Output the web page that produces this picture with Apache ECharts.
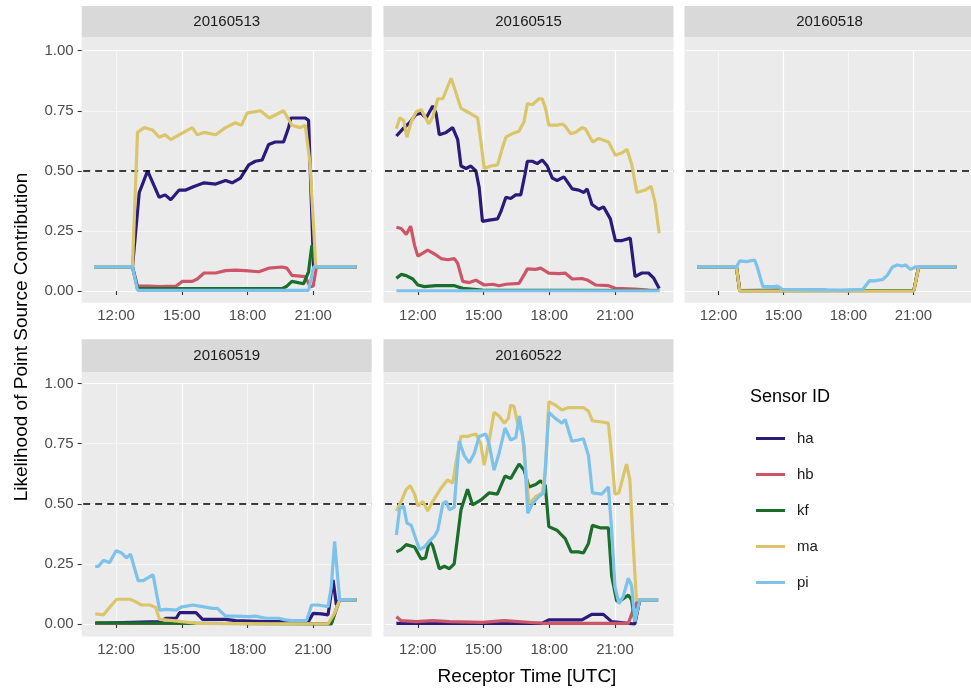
<!DOCTYPE html>
<html>
<head>
<meta charset="utf-8">
<script src="https://cdn.jsdelivr.net/npm/echarts@6/dist/echarts.min.js"></script>
<style>
html, body { margin: 0; padding: 0; background: #fff; }
#chart { width: 971px; height: 691px; }
</style>
</head>
<body>
<div id="chart"></div>
<script>
// facet labels and sensors
var dates = ['20160513', '20160515', '20160518', '20160519', '20160522'];
var sensors = ['ha', 'hb', 'kf', 'ma', 'pi'];
var sensorColors = ['#2b1a7a', '#cc5568', '#1a6e2c', '#dbc56a', '#7cc2ea'];
var xTicks = [12, 15, 18, 21];
var yTicks = [0, 0.25, 0.5, 0.75, 1];

// [hour UTC, likelihood]
var ha_0513 = [[11.0,0.1],[12.75,0.1],[13.06,0.41],[13.44,0.50],[13.97,0.39],[14.24,0.40],[14.5,0.38],[14.88,0.42],[15.18,0.42],[15.56,0.435],[16.02,0.45],[16.55,0.445],[17.0,0.46],[17.3,0.45],[17.68,0.47],[18.06,0.525],[18.36,0.54],[18.67,0.545],[18.97,0.61],[19.27,0.62],[19.65,0.62],[19.88,0.68],[19.98,0.72],[20.64,0.72],[20.79,0.71],[21.02,0.1],[22.98,0.1]];
var hb_0513 = [[11,0.1],[12.75,0.1],[12.98,0.02],[13.5,0.02],[13.97,0.018],[14.73,0.02],[15.03,0.04],[15.48,0.04],[15.71,0.05],[16.02,0.075],[16.55,0.075],[17.0,0.085],[17.45,0.087],[17.9,0.085],[18.52,0.08],[18.97,0.095],[19.58,0.1],[19.8,0.095],[20.03,0.065],[20.64,0.06],[20.86,0.018],[21.0,0.02],[21.15,0.1],[22.98,0.1]];
var kf_0513 = [[11,0.1],[12.75,0.1],[12.98,0.01],[19.58,0.01],[19.8,0.02],[20.03,0.04],[20.56,0.03],[20.79,0.08],[20.94,0.19],[21.09,0.1],[22.98,0.1]];
var ma_0513 = [[11.0,0.1],[12.75,0.1],[12.98,0.66],[13.29,0.68],[13.67,0.67],[13.97,0.64],[14.24,0.65],[14.5,0.63],[14.88,0.65],[15.48,0.68],[15.71,0.65],[16.02,0.66],[16.55,0.65],[17.0,0.68],[17.45,0.70],[17.73,0.69],[17.98,0.74],[18.59,0.75],[19.0,0.72],[19.65,0.75],[20.03,0.69],[20.41,0.68],[20.64,0.69],[20.86,0.53],[21.12,0.1],[22.98,0.1]];
var pi_0513 = [[11,0.1],[12.75,0.1],[12.98,0.003],[20.79,0.003],[21.02,0.1],[22.98,0.1]];

var ha_0515 = [[11.02,0.645],[11.32,0.675],[11.62,0.70],[11.92,0.735],[12.15,0.74],[12.38,0.72],[12.68,0.77],[12.83,0.74],[12.98,0.65],[13.29,0.66],[13.59,0.68],[13.82,0.63],[13.97,0.52],[14.2,0.51],[14.42,0.52],[14.65,0.50],[14.8,0.43],[14.95,0.29],[15.26,0.295],[15.64,0.30],[15.79,0.33],[16.02,0.39],[16.24,0.385],[16.47,0.40],[16.7,0.40],[16.89,0.485],[17.0,0.54],[17.23,0.54],[17.45,0.53],[17.68,0.545],[17.91,0.52],[18.14,0.47],[18.36,0.46],[18.67,0.475],[19.05,0.425],[19.35,0.42],[19.58,0.41],[19.73,0.425],[19.95,0.36],[20.26,0.34],[20.48,0.35],[20.79,0.30],[21.02,0.21],[21.33,0.21],[21.7,0.22],[21.92,0.06],[22.23,0.075],[22.53,0.075],[22.76,0.055],[23.02,0.01]];
var hb_0515 = [[11.02,0.265],[11.24,0.26],[11.47,0.235],[11.67,0.27],[11.85,0.19],[12.0,0.145],[12.45,0.17],[12.83,0.15],[13.06,0.135],[13.36,0.13],[13.67,0.135],[13.82,0.115],[14.05,0.04],[14.35,0.035],[14.65,0.045],[15.03,0.025],[15.41,0.028],[15.71,0.022],[16.02,0.028],[16.62,0.032],[16.85,0.067],[17.0,0.092],[17.38,0.09],[17.61,0.095],[17.98,0.074],[18.44,0.072],[18.74,0.074],[19.05,0.05],[19.5,0.052],[19.73,0.046],[20.11,0.025],[20.71,0.022],[21.02,0.011],[21.92,0.008],[22.53,0.004],[23.02,0.003]];
var kf_0515 = [[11.02,0.053],[11.24,0.069],[11.47,0.064],[11.77,0.05],[12.0,0.025],[12.3,0.018],[12.83,0.022],[13.67,0.022],[14.05,0.011],[14.95,0.004],[23.02,0.002]];
var ma_0515 = [[11.02,0.675],[11.17,0.72],[11.35,0.71],[11.5,0.64],[11.7,0.705],[11.92,0.745],[12.15,0.755],[12.5,0.695],[12.68,0.725],[12.91,0.80],[13.14,0.80],[13.36,0.85],[13.52,0.885],[13.74,0.825],[13.97,0.76],[14.27,0.745],[14.73,0.72],[14.88,0.62],[15.03,0.51],[15.33,0.52],[15.64,0.525],[15.86,0.595],[16.02,0.64],[16.32,0.655],[16.62,0.665],[16.85,0.705],[17.0,0.78],[17.23,0.775],[17.53,0.80],[17.68,0.80],[17.83,0.76],[17.98,0.69],[18.36,0.69],[18.59,0.695],[18.74,0.685],[18.97,0.655],[19.2,0.66],[19.5,0.68],[19.65,0.675],[19.98,0.62],[20.26,0.635],[20.71,0.62],[21.02,0.565],[21.33,0.575],[21.55,0.59],[21.77,0.525],[22.0,0.41],[22.38,0.42],[22.65,0.435],[22.83,0.37],[23.02,0.24]];
var pi_0515 = [[11.02,0.001],[23.02,0.001]];

var ha_0518 = [[11.02,0.1],[12.83,0.1],[12.98,0.002],[15.5,0.004],[17,0.003],[21.02,0.002],[21.24,0.1],[22.98,0.1]];
var hb_0518 = [[11.02,0.1],[12.83,0.1],[12.98,0.001],[21.02,0.001],[21.24,0.1],[22.98,0.1]];
var kf_0518 = [[11.02,0.1],[12.83,0.1],[12.98,0.001],[20.5,0.002],[21.02,0.002],[21.24,0.1],[22.98,0.1]];
var ma_0518 = [[11.02,0.1],[12.83,0.1],[12.98,0],[21.02,0],[21.24,0.1],[22.98,0.1]];
var pi_0518 = [[11.02,0.1],[12.83,0.1],[12.98,0.125],[13.29,0.122],[13.67,0.129],[13.79,0.1],[14.05,0.018],[14.58,0.018],[14.73,0.02],[14.95,0.007],[17.61,0.004],[18.67,0.007],[18.97,0.043],[19.2,0.042],[19.58,0.048],[19.8,0.066],[20.03,0.1],[20.26,0.108],[20.48,0.104],[20.64,0.108],[20.86,0.09],[21.09,0.1],[22.98,0.1]];

var ha_0519 = [[11.05,0.003],[13.99,0.01],[14.29,0.024],[14.75,0.024],[14.9,0.047],[15.65,0.047],[15.95,0.019],[17.0,0.019],[17.46,0.014],[18.82,0.01],[20.78,0.01],[21.0,0.044],[21.38,0.042],[21.68,0.038],[21.91,0.183],[22.06,0.08],[22.21,0.1],[22.97,0.1]];
var hb_0519 = [[11.05,0.002],[21.83,0.002],[22.21,0.1],[22.97,0.1]];
var kf_0519 = [[11.05,0.005],[21.83,0.0],[22.14,0.086],[22.21,0.1],[22.97,0.1]];
var ma_0519 = [[11.05,0.042],[11.43,0.038],[11.73,0.072],[12.03,0.103],[12.33,0.103],[12.63,0.103],[12.86,0.094],[13.16,0.079],[13.54,0.079],[13.81,0.069],[13.99,0.019],[14.59,0.014],[15.65,0.003],[19.42,0.001],[21.68,0.001],[21.98,0.045],[22.21,0.1],[22.97,0.1]];
var pi_0519 = [[11.05,0.24],[11.2,0.24],[11.43,0.265],[11.7,0.255],[12.0,0.305],[12.26,0.295],[12.48,0.275],[12.66,0.29],[13.01,0.18],[13.24,0.18],[13.69,0.205],[13.99,0.058],[14.29,0.061],[14.75,0.058],[14.97,0.07],[15.5,0.079],[15.95,0.072],[16.4,0.065],[16.63,0.065],[17.0,0.033],[17.46,0.033],[18.06,0.031],[18.36,0.033],[18.82,0.024],[19.42,0.024],[19.72,0.017],[20.02,0.014],[20.7,0.014],[20.93,0.079],[21.23,0.079],[21.68,0.072],[21.83,0.156],[21.98,0.343],[22.21,0.1],[22.97,0.1]];

var ha_0522 = [[11.02,0.003],[17.68,0.003],[17.98,0.017],[19.49,0.017],[19.94,0.04],[20.47,0.04],[20.85,0.01],[21.91,0.0],[22.13,0.1],[22.97,0.1]];
var hb_0522 = [[11.02,0.03],[11.24,0.014],[11.92,0.01],[12.68,0.014],[13.44,0.01],[14.95,0.007],[15.94,0.014],[17.68,0.003],[21.61,0.003],[21.83,0.058],[22.06,0.1],[22.97,0.1]];
var kf_0522 = [[11.02,0.30],[11.24,0.31],[11.47,0.33],[11.85,0.32],[12.15,0.27],[12.35,0.275],[12.53,0.345],[12.68,0.325],[12.98,0.23],[13.21,0.24],[13.44,0.23],[13.66,0.25],[13.97,0.475],[14.27,0.56],[14.5,0.495],[14.87,0.515],[15.25,0.545],[15.63,0.54],[15.98,0.615],[16.24,0.605],[16.62,0.665],[16.85,0.64],[17.07,0.57],[17.38,0.58],[17.6,0.595],[17.82,0.575],[17.98,0.405],[18.35,0.39],[18.73,0.355],[19.0,0.30],[19.33,0.30],[19.56,0.295],[19.79,0.335],[19.97,0.41],[20.32,0.40],[20.7,0.40],[20.85,0.20],[21.08,0.095],[21.3,0.10],[21.61,0.12],[21.76,0.10],[21.91,0.01],[22.13,0.1],[22.97,0.1]];
var ma_0522 = [[11.02,0.47],[11.24,0.51],[11.47,0.56],[11.65,0.575],[11.85,0.54],[12.0,0.49],[12.23,0.51],[12.45,0.47],[12.68,0.51],[13.06,0.565],[13.36,0.60],[13.59,0.585],[13.74,0.67],[13.97,0.78],[14.27,0.78],[14.42,0.785],[14.65,0.79],[14.87,0.75],[15.03,0.66],[15.25,0.76],[15.48,0.88],[15.71,0.865],[15.94,0.835],[16.13,0.855],[16.24,0.91],[16.39,0.905],[16.54,0.84],[16.77,0.795],[17.07,0.50],[17.38,0.53],[17.68,0.545],[17.83,0.64],[17.98,0.925],[18.28,0.91],[18.58,0.89],[18.88,0.90],[19.19,0.90],[19.56,0.90],[19.79,0.885],[19.97,0.845],[20.4,0.84],[20.7,0.835],[20.85,0.70],[21.0,0.54],[21.18,0.545],[21.38,0.615],[21.53,0.665],[21.68,0.60],[21.83,0.336],[21.98,0.1],[22.21,0.1],[22.97,0.1]];
var pi_0522 = [[11.02,0.37],[11.17,0.48],[11.35,0.49],[11.5,0.42],[11.7,0.41],[11.92,0.35],[12.08,0.31],[12.3,0.32],[12.53,0.345],[12.76,0.365],[12.91,0.39],[13.14,0.50],[13.29,0.51],[13.44,0.475],[13.66,0.485],[13.89,0.76],[14.12,0.70],[14.35,0.67],[14.58,0.71],[14.8,0.78],[15.1,0.79],[15.25,0.75],[15.48,0.64],[15.71,0.71],[15.98,0.815],[16.24,0.765],[16.47,0.775],[16.64,0.865],[16.85,0.74],[17.02,0.46],[17.23,0.50],[17.53,0.53],[17.75,0.545],[17.98,0.88],[18.28,0.855],[18.58,0.835],[18.73,0.85],[19.03,0.76],[19.33,0.765],[19.56,0.77],[19.79,0.70],[19.97,0.545],[20.4,0.54],[20.7,0.57],[20.85,0.39],[21.0,0.155],[21.18,0.085],[21.38,0.115],[21.61,0.19],[21.76,0.16],[21.91,0.01],[22.13,0.1],[22.97,0.1]];

var panelData = [
    [ha_0513, hb_0513, kf_0513, ma_0513, pi_0513],
    [ha_0515, hb_0515, kf_0515, ma_0515, pi_0515],
    [ha_0518, hb_0518, kf_0518, ma_0518, pi_0518],
    [ha_0519, hb_0519, kf_0519, ma_0519, pi_0519],
    [ha_0522, hb_0522, kf_0522, ma_0522, pi_0522]
];

var chart = echarts.init(document.getElementById('chart'));
var FONT = '"Liberation Sans", Arial, sans-serif';

// panel geometry (ggplot facet_wrap, 3 columns)
var colLeft = [81.7, 383.5, 684.5];
var panelW = 290;
var rowPanelTop = [37.3, 372];
var rowPanelH = [265.4, 264.5];
var rowStripTop = [6, 339.3];
var rowGridTop = [50.7, 383.5];
var rowGridH = [240.3, 240.5];
var xMin = 10.5, xMax = 23.66;
var pxPerHour = 21.9;

var grids = [], xAxes = [], yAxes = [], series = [], graphics = [];

dates.forEach(function (d, i) {
    var col = i % 3, row = Math.floor(i / 3);
    var L = colLeft[col];
    graphics.push({
        type: 'rect', z: -10,
        shape: { x: L, y: rowPanelTop[row], width: panelW, height: rowPanelH[row] },
        style: { fill: '#ebebeb' }
    });
    graphics.push({
        type: 'rect', z: -10,
        shape: { x: L, y: rowStripTop[row], width: panelW, height: rowPanelTop[row] - rowStripTop[row] },
        style: { fill: '#d9d9d9' }
    });
    graphics.push({
        type: 'text', z: 10,
        x: L + panelW / 2, y: (rowStripTop[row] + rowPanelTop[row]) / 2,
        style: { text: d, font: '15px ' + FONT, fill: '#1a1a1a', align: 'center', verticalAlign: 'middle' }
    });

    var bottomGap = rowPanelTop[row] + rowPanelH[row] - rowGridTop[row] - rowGridH[row];
    grids.push({
        left: L + 1.5, top: rowGridTop[row],
        width: (xMax - xMin) * pxPerHour, height: rowGridH[row]
    });
    xAxes.push({
        type: 'value', gridIndex: i, min: xMin, max: xMax, interval: 1.5,
        offset: bottomGap,
        axisLine: { show: false },
        axisTick: { show: true, customValues: xTicks, length: 4, lineStyle: { color: '#333', width: 1.1 } },
        axisLabel: {
            customValues: xTicks, margin: 6, color: '#4d4d4d', fontSize: 15, fontFamily: FONT,
            formatter: function (v) { return Math.round(v) + ':00'; }
        },
        splitLine: { show: true, lineStyle: { color: ['#f6f6f6', '#ffffff'], width: 1.2 } }
    });
    yAxes.push({
        type: 'value', gridIndex: i, min: 0, max: 1, interval: 0.125,
        offset: 1.5,
        axisLine: { show: false },
        axisTick: { show: col === 0, customValues: yTicks, length: 4, lineStyle: { color: '#333', width: 1.1 } },
        axisLabel: {
            show: col === 0, customValues: yTicks, margin: 8, color: '#4d4d4d', fontSize: 15, fontFamily: FONT,
            formatter: function (v) { return v.toFixed(2); }
        },
        splitLine: { show: true, lineStyle: { color: ['#ffffff', '#f6f6f6'], width: 1.2 } }
    });

    sensors.forEach(function (s, k) {
        var ser = {
            name: s, type: 'line', xAxisIndex: i, yAxisIndex: i,
            data: panelData[i][k], showSymbol: false, clip: false,
            color: sensorColors[k],
            lineStyle: { width: 3.2, color: sensorColors[k] },
            z: 3 + k
        };
        if (k === 0) {
            ser.markLine = {
                silent: true, symbol: 'none', label: { show: false },
                lineStyle: { type: [7, 5], color: '#000', width: 1.5 },
                data: [{ yAxis: 0.5 }]
            };
        }
        series.push(ser);
    });
});

graphics.push({
    type: 'text', x: 22, y: 337, rotation: Math.PI / 2,
    style: { text: 'Likelihood of Point Source Contribution', font: '19px ' + FONT, fill: '#000', align: 'center', verticalAlign: 'middle' }
});
graphics.push({
    type: 'text', x: 527, y: 677,
    style: { text: 'Receptor Time [UTC]', font: '19px ' + FONT, fill: '#000', align: 'center', verticalAlign: 'middle' }
});
graphics.push({
    type: 'text', x: 750, y: 397,
    style: { text: 'Sensor ID', font: '18px ' + FONT, fill: '#000', align: 'left', verticalAlign: 'middle' }
});

var option = {
    backgroundColor: '#ffffff',
    animation: false,
    grid: grids,
    xAxis: xAxes,
    yAxis: yAxes,
    legend: {
        data: sensors, orient: 'vertical', left: 751, top: 426,
        icon: 'rect', itemWidth: 29, itemHeight: 3, itemGap: 21,
        textStyle: { fontSize: 15, fontFamily: FONT, color: '#1a1a1a', padding: [0, 0, 0, 7] }
    },
    graphic: graphics,
    series: series
};
chart.setOption(option);
</script>
</body>
</html>
